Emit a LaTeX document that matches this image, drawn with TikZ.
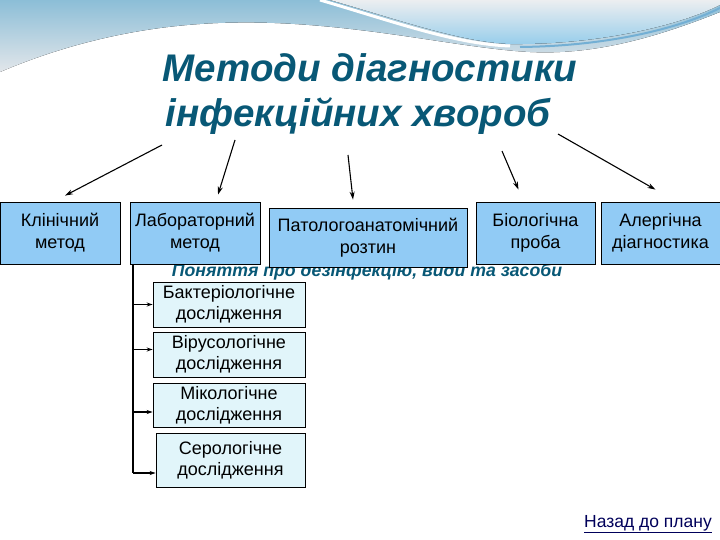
\documentclass[tikz,border=0pt]{standalone}
\usepackage{fontspec}
\setmainfont{Liberation Sans}
\usetikzlibrary{arrows.meta}
\definecolor{titleteal}{RGB}{8,88,118}
\definecolor{boxblue}{RGB}{145,203,245}
\definecolor{subblue}{RGB}{225,245,250}
\definecolor{skytop}{RGB}{140,190,215}
\definecolor{skylow}{RGB}{226,230,234}
\definecolor{swooshtop}{RGB}{236,238,240}
\definecolor{swooshblue}{RGB}{150,205,235}
\definecolor{swooshedge}{RGB}{115,175,212}
\definecolor{linknavy}{RGB}{0,0,90}
\tikzset{
  title/.style={text=titleteal, font=\fontsize{38.5}{45}\selectfont\bfseries\itshape},
  methodbox/.style={draw, fill=boxblue, line width=0.8pt, align=center, inner sep=0pt,
    font=\fontsize{18}{22}\selectfont},
  studybox/.style={draw, fill=subblue, line width=0.6pt, align=center, inner sep=0pt,
    font=\fontsize{18}{21}\selectfont},
  arr/.style={line width=1.1pt, -{Stealth[length=8pt,width=5pt]}},
  smallarr/.style={line width=1.1pt, -{Stealth[length=6pt,width=4pt]}}
}
\begin{document}
\begin{tikzpicture}[x=1pt,y=-1pt]
\useasboundingbox (0,0) rectangle (720,540);
\fill[white] (0,0) rectangle (720,540);
% top waves
\fill[top color=skytop, bottom color=skylow] (0,0) -- (720,0) -- (720,12)
  .. controls (650,40) and (590,55) .. (530,52)
  .. controls (450,48) and (330,15) .. (200,24)
  .. controls (110,30) and (40,55) .. (0,72) -- cycle;
\fill[top color=swooshtop, bottom color=swooshblue] (330,0)
  .. controls (400,20) and (460,42) .. (510,44)
  .. controls (600,45) and (680,25) .. (720,5) -- (720,0) -- cycle;
\draw[white, line width=3pt] (320,0) .. controls (395,22) and (455,44) .. (510,46);
\draw[swooshedge, line width=2pt] (520,47) .. controls (610,46) and (680,28) .. (720,8);

\node[title, anchor=base] (title1) at (370,82) {Методи діагностики};
\node[title, anchor=base] (title2) at (358,127) {інфекційних хвороб};

\node[anchor=base, text=titleteal, font=\fontsize{17.7}{17.7}\selectfont\bfseries\itshape]
  (ponyattya) at (367,276) {Поняття про дезінфекцію, види та засоби};

\node[methodbox, minimum width=120pt, minimum height=62pt] (klin) at (60,233) {Клінічний\\метод};
\node[methodbox, minimum width=130pt, minimum height=62pt] (lab) at (195,233) {Лабораторний\\метод};
\node[methodbox, minimum width=198pt, minimum height=59pt] (patol) at (368,237.5) {Патологоанатомічний\\розтин};
\node[methodbox, minimum width=119pt, minimum height=62pt] (bio) at (535.5,233) {Біологічна\\проба};
\node[methodbox, minimum width=119pt, minimum height=62pt] (aler) at (660.5,233) {Алергічна\\діагностика};

\node[studybox, minimum width=152pt, minimum height=45pt] (bak) at (229,304.5) {Бактеріологічне\\дослідження};
\node[studybox, minimum width=152pt, minimum height=45pt] (vir) at (229,354.5) {Вірусологічне\\дослідження};
\node[studybox, minimum width=152pt, minimum height=44pt] (mik) at (229,405) {Мікологічне\\дослідження};
\node[studybox, minimum width=149pt, minimum height=54pt] (ser) at (230.5,460) {Серологічне\\дослідження};

% arrows from the title
\coordinate (t1) at (162,145);
\coordinate (t2) at (235,140);
\coordinate (t3) at (348,155);
\coordinate (t4) at (502,151);
\coordinate (t5) at (558,134);
\draw[arr] (t1) -- ([xshift=5pt,yshift=6pt]klin.north);
\draw[arr] (t2) -- ([xshift=23pt,yshift=7pt]lab.north);
\draw[arr] (t3) -- ([xshift=-15pt,yshift=8pt]patol.north);
\draw[arr] (t4) -- ([xshift=-17pt,yshift=12pt]bio.north);
\draw[arr] (t5) -- ([xshift=-5pt,yshift=12pt]aler.north);

% trunk under the laboratory method
\coordinate (trunk) at (133,0);
\coordinate (bakin) at (bak.west);
\coordinate (virin) at ([yshift=5pt]vir.west);
\coordinate (mikin) at ([yshift=-7pt]mik.west);
\coordinate (serin) at ([yshift=-13pt]ser.west);
\draw[line width=1.4pt] (lab.south -| trunk) -- (serin -| trunk);
\draw[smallarr] (bakin -| trunk) -- (bakin);
\draw[smallarr] (virin -| trunk) -- (virin);
\draw[smallarr] (mikin -| trunk) -- (mikin);
\draw[smallarr] (serin -| trunk) -- (serin);

\node[anchor=base, text=linknavy, font=\fontsize{17.5}{17.5}\selectfont] (back) at (648,527) {\underline{Назад до плану}};
\end{tikzpicture}
\end{document}
